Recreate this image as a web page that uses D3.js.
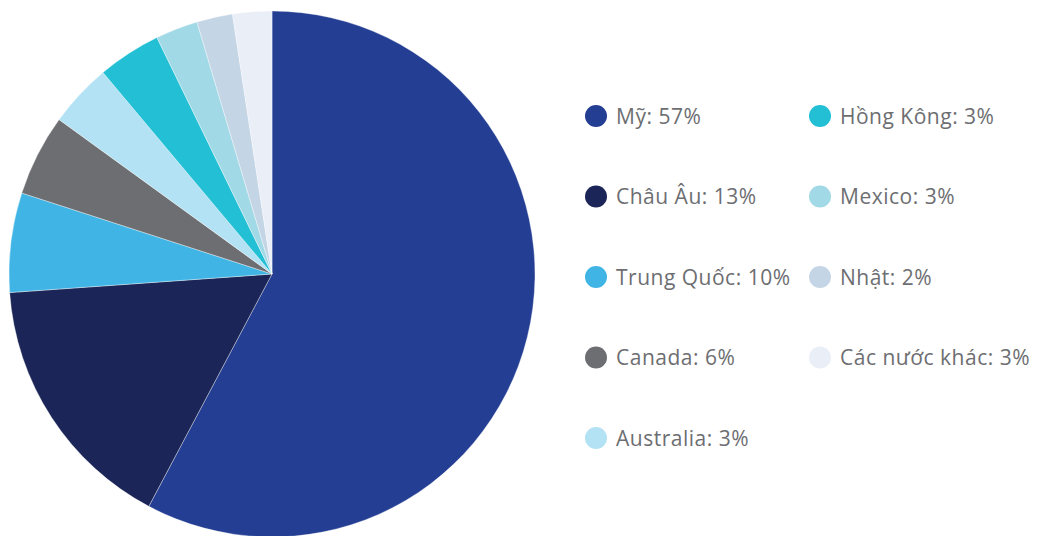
<!DOCTYPE html>
<html>
<head>
	<meta charset="utf-8">
	<title>Pie</title>
	<style type="text/css">
		body { margin: 0; background: #fff; }
		.legend text { font-family: "Open Sans", sans-serif; fill: #6d6e71; letter-spacing: 0.5px; }
	</style>
</head>
<body>

	<svg width=1045 height=536 class="pie"></svg>

	<script type="text/javascript" src="https://cdn.jsdelivr.net/npm/d3@7/dist/d3.min.js"></script>

	<script type="text/javascript">

		// slice shares (they don't quite match the legend text)
		countries = ['Mỹ', 'Châu Âu', 'Trung Quốc', 'Canada', 'Australia', 'Hồng Kông', 'Mexico', 'Nhật', 'Các nước khác']
		shares = [57.7, 16.1, 6.1, 5.0, 3.9, 3.9, 2.6, 2.2, 2.4]
		legend_labels = ['Mỹ: 57%', 'Châu Âu: 13%', 'Trung Quốc: 10%', 'Canada: 6%', 'Australia: 3%',
			'Hồng Kông: 3%', 'Mexico: 3%', 'Nhật: 2%', 'Các nước khác: 3%']
		colors = ['#233e93', '#1b2557', '#40b5e5', '#6d6e71', '#b3e2f4', '#22bfd5', '#a1dae6', '#c4d5e5', '#e9eef7']

		svg = d3.select('.pie')

		cx = 272
		cy = 274
		radius = 263

		data = countries.map(function(c, i) {
			return {name: c, value: shares[i], label: legend_labels[i], color: colors[i]}
		})

		pieLayout = d3.pie()
			.sort(null)
			.value(function(d) {return d.value})

		arcGenerator = d3.arc()
			.innerRadius(0)
			.outerRadius(radius)

		g_pie = svg.append('g')
			.attr('transform', 'translate(' + cx + ',' + cy + ')')

		g_pie.selectAll('path')
			.data(pieLayout(data))
			.enter()
			.append('path')
			.attr('d', arcGenerator)
			.attr('fill', function(d) {return d.data.color})
			.attr('stroke', '#ffffff')
			.attr('stroke-opacity', 0.6)
			.attr('stroke-width', 0.6)

		// legend: two columns, five rows in the first
		col_x = [596, 820]
		row_y = d3.scalePoint().domain(d3.range(5)).range([116, 438])

		g_leg = svg.append('g').attr('class', 'legend')

		items = g_leg.selectAll('g')
			.data(data)
			.enter()
			.append('g')
			.attr('transform', function(d, i) {
				var col = i < 5 ? 0 : 1
				var row = i < 5 ? i : i - 5
				return 'translate(' + col_x[col] + ',' + row_y(row) + ')'
			})

		items.append('circle')
			.attr('r', 11)
			.attr('fill', function(d) {return d.color})

		items.append('text')
			.attr('x', 20)
			.attr('y', 7.5)
			.style('font-size', '21px')
			.text(function(d) {return d.label})

	</script>

</body>
</html>
